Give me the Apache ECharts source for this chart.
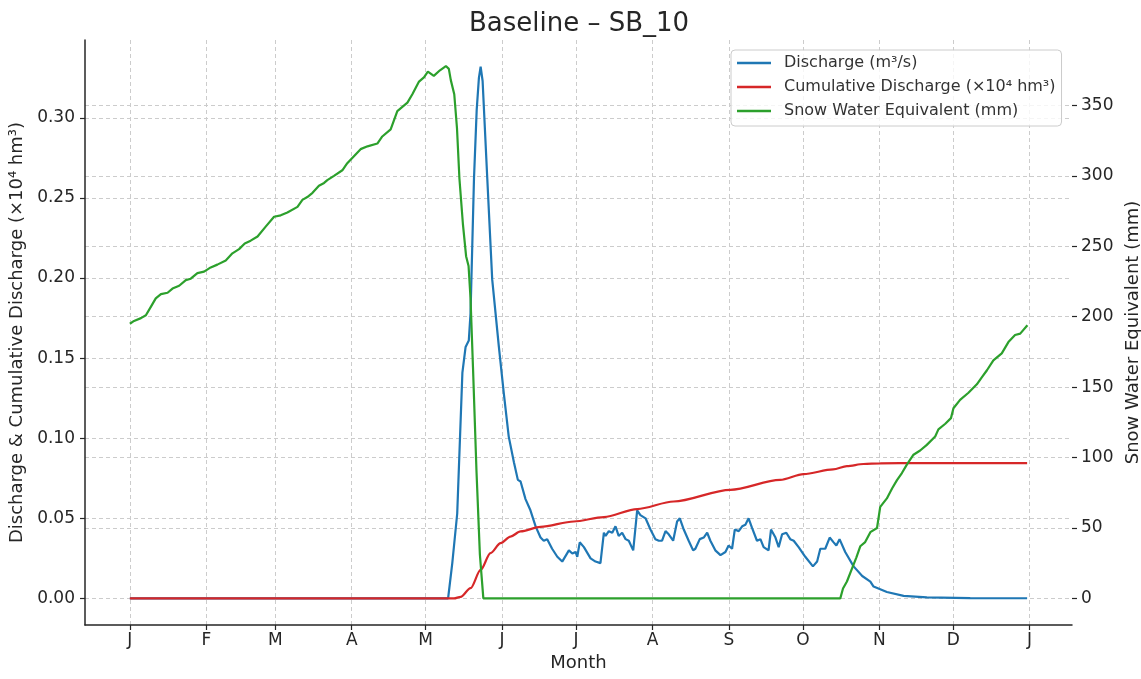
<!DOCTYPE html>
<html>
<head>
<meta charset="utf-8">
<script src="https://cdn.jsdelivr.net/npm/echarts@6/dist/echarts.min.js"></script>
<style>
html, body { margin: 0; padding: 0; background: #fff; }
#chart { width: 1141px; height: 679px; }
</style>
</head>
<body>
<div id="chart"></div>
<script>
// x axis is day of year, ticks at the first of each month
const monthTicks = [0, 31, 59, 90, 120, 151, 181, 212, 243, 273, 304, 334, 365]
const monthLabels = ['J', 'F', 'M', 'A', 'M', 'J', 'J', 'A', 'S', 'O', 'N', 'D', 'J']
const leftTicks = [0, 0.05, 0.1, 0.15, 0.2, 0.25, 0.3]
const rightTicks = [0, 50, 100, 150, 200, 250, 300, 350]

// discharge (m3/s)
const qDays = [0, 129.1, 130.8, 132.8, 134.9, 136.2, 137.5, 138.2, 139.6, 140.7, 141.6, 142.3, 143.1, 145.0, 147.0,
  149.7, 151.7, 153.7, 155.8, 157.4, 158.5, 160.5, 162.5, 164.6, 166.6, 167.9, 169.3, 171.3, 173.4, 175.4,
  178.1, 179.5, 180.8, 181.5, 182.5, 184.2, 186.9, 188.9, 190.9, 192.3, 193.0, 194.3, 195.7, 197.0, 198.3,
  199.7, 201.1, 202.4, 204.2, 205.8, 207.1, 209.2, 211.2, 213.2, 214.6, 215.9, 217.3, 218.6, 220.4, 222.0,
  223.1, 224.7, 226.7, 228.5, 229.4, 231.2, 232.8, 234.2, 235.5, 237.5, 239.6, 241.6, 242.9, 244.3, 245.4,
  247.0, 248.4, 249.7, 251.0, 252.4, 254.4, 255.8, 257.1, 259.1, 260.1, 261.9, 263.2, 264.6, 266.3, 267.9,
  269.3, 271.3, 274.0, 277.1, 278.8, 280.1, 282.1, 283.9, 285.5, 286.6, 287.9, 290.2, 293.6, 297.1, 300.4,
  301.7, 307.1, 313.9, 323.3, 340.9, 364]
const qVals = [0, 0, 0.022, 0.053, 0.141, 0.157, 0.161, 0.178, 0.262, 0.305, 0.325, 0.332, 0.323, 0.262, 0.199,
  0.157, 0.128, 0.101, 0.085, 0.074, 0.073, 0.062, 0.055, 0.045, 0.038, 0.036, 0.037, 0.031, 0.026, 0.023,
  0.030, 0.028, 0.029, 0.026, 0.035, 0.032, 0.025, 0.023, 0.022, 0.041, 0.039, 0.042, 0.041, 0.045, 0.039,
  0.041, 0.037, 0.036, 0.030, 0.055, 0.052, 0.050, 0.043, 0.037, 0.036, 0.036, 0.042, 0.040, 0.036, 0.048,
  0.050, 0.043, 0.036, 0.030, 0.031, 0.037, 0.038, 0.041, 0.036, 0.030, 0.027, 0.029, 0.033, 0.031, 0.043,
  0.042, 0.045, 0.046, 0.050, 0.044, 0.036, 0.037, 0.032, 0.030, 0.043, 0.038, 0.032, 0.040, 0.041, 0.037,
  0.036, 0.032, 0.026, 0.020, 0.023, 0.031, 0.031, 0.038, 0.035, 0.033, 0.037, 0.029, 0.020, 0.014, 0.0105,
  0.0074, 0.004, 0.0016, 0.0006, 0.0002, 0.0001]

// cumulative discharge (x10^4 hm3)
const cumDays = [0, 131.5, 134.2, 138.2, 142.3, 146.3, 150.4, 154.4, 158.5, 166.6, 180.1, 192.3, 205.8, 220.6,
  243.6, 263.8, 273.3, 285.3, 290.9, 297.6, 304.4, 320.6, 364]
const cumVals = [0, 0, 0.001, 0.0064, 0.0178, 0.0283, 0.0345, 0.0386, 0.0418, 0.0447, 0.048, 0.0508, 0.0558, 0.0605,
  0.0678, 0.074, 0.0776, 0.0806, 0.0826, 0.0839, 0.0843, 0.0845, 0.0845]

// snow water equivalent (mm)
const sweDays = [0, 1.7, 4.5, 6.5, 8.5, 10.5, 12.6, 15.3, 17.3, 20, 22.7, 24.7, 27.4, 30.1, 32.8, 35.5, 38.9, 41.6,
  44.3, 46.6, 49, 51.8, 55.1, 58.5, 61.2, 63.9, 68, 70, 72, 74.1, 76.7, 78.8, 80.1, 82.8, 86.2, 88.2, 90.9, 93.6,
  96.4, 100.4, 102.4, 105.8, 108.5, 112.6, 114.6, 117.3, 119.3, 120.9, 123.3, 125.8, 128.2, 129.4, 130.2, 131.6,
  132.7, 133.7, 135.1, 136.4, 137.4, 138.2, 139.2, 140.6, 142, 143.4, 288.2, 289.3, 290.9, 292.9, 294.7, 296.3,
  298.3, 300.4, 303.1, 304.4, 307.1, 309.2, 311.2, 313.2, 315.2, 317.9, 320.6, 323.3, 326.7, 328, 330.8, 333.1,
  334.1, 336.8, 340.2, 343.6, 345.6, 347.7, 350.3, 353.7, 356.4, 359.1, 361.2, 364.1]
const sweVals = [195, 197, 199, 201, 207, 213, 216, 217, 220, 222, 226, 227, 231, 232, 235, 237, 240, 245,
  248, 252, 254, 257, 264, 271, 272, 274, 278, 283, 285, 288, 293, 295, 297, 300, 304, 309, 314, 319,
  321, 323, 328, 333, 346, 352, 358, 367, 370, 374, 371, 375, 378, 376, 368, 358,
  334, 298, 266, 243, 236, 213, 164, 91, 31, 0, 0, 7, 12, 21, 29, 37,
  40, 47, 50, 65, 71, 78, 84, 89, 95, 102, 105, 109, 115, 120, 124, 128,
  135, 141, 146, 152, 157, 162, 169, 174, 182, 187, 188, 194]

const pairs = (xs, ys) => xs.map((x, i) => [x, ys[i]])

const font = 'DejaVu Sans'
const textColor = '#262626'
const gridLine = { show: true, lineStyle: { color: '#cccccc', type: [4, 3], width: 1 } }
const tick = { show: true, length: 5, lineStyle: { color: '#262626', width: 1.2 } }

const chart = echarts.init(document.getElementById('chart'))
chart.setOption({
  animation: false,
  backgroundColor: '#fff',
  title: {
    text: 'Baseline – SB_10',
    left: 579,
    textAlign: 'center',
    top: 11,
    padding: 0,
    textStyle: { fontFamily: font, fontSize: 26, fontWeight: 'normal', color: textColor }
  },
  grid: { left: 85, right: 69, top: 40, bottom: 54, outerBoundsMode: 'none', containLabel: false },
  legend: {
    orient: 'vertical',
    left: 731,
    top: 50,
    icon: 'rect',
    itemWidth: 34,
    itemHeight: 2.5,
    itemGap: 6,
    padding: [4, 6, 6, 6],
    backgroundColor: 'rgba(255,255,255,0.8)',
    borderColor: '#cccccc',
    borderWidth: 1,
    borderRadius: 4,
    textStyle: { fontFamily: font, fontSize: 16, color: '#333', lineHeight: 18, padding: [0, 0, 0, 8] }
  },
  xAxis: {
    type: 'value',
    min: -18.2,
    max: 382.2,
    name: 'Month',
    nameLocation: 'middle',
    nameGap: 29,
    nameTextStyle: { fontFamily: font, fontSize: 18, color: textColor },
    axisLine: { show: true, onZero: false, lineStyle: { color: '#262626', width: 1.5 } },
    axisTick: Object.assign({ customValues: monthTicks }, tick),
    axisLabel: {
      customValues: monthTicks,
      formatter: v => monthLabels[monthTicks.indexOf(v)],
      margin: 7,
      fontFamily: font,
      fontSize: 17,
      color: textColor
    },
    splitLine: gridLine
  },
  yAxis: [
    {
      type: 'value',
      position: 'left',
      min: -0.0166,
      max: 0.3486,
      name: 'Discharge & Cumulative Discharge (×10⁴ hm³)',
      nameLocation: 'middle',
      nameGap: 58,
      nameTextStyle: { fontFamily: font, fontSize: 18, color: textColor },
      axisLine: { show: true, onZero: false, lineStyle: { color: '#262626', width: 1.5 } },
      axisTick: Object.assign({ customValues: leftTicks }, tick),
      axisLabel: {
        customValues: leftTicks,
        formatter: v => v.toFixed(2),
        margin: 10,
        fontFamily: font,
        fontSize: 17,
        color: textColor
      },
      splitLine: gridLine
    },
    {
      type: 'value',
      position: 'right',
      min: -18.9,
      max: 396.5,
      name: 'Snow Water Equivalent (mm)',
      nameLocation: 'middle',
      nameGap: 46,
      nameTextStyle: { fontFamily: font, fontSize: 18, color: textColor },
      axisLine: { show: false, onZero: false },
      axisTick: Object.assign({ customValues: rightTicks }, tick),
      axisLabel: {
        customValues: rightTicks,
        margin: 9,
        fontFamily: font,
        fontSize: 17,
        color: textColor
      },
      splitLine: gridLine
    }
  ],
  series: [
    {
      name: 'Discharge (m³/s)',
      type: 'line',
      yAxisIndex: 0,
      data: pairs(qDays, qVals),
      symbol: 'none',
      color: '#1f77b4',
      lineStyle: { width: 2.2, color: '#1f77b4' }
    },
    {
      name: 'Cumulative Discharge (×10⁴ hm³)',
      type: 'line',
      yAxisIndex: 0,
      data: pairs(cumDays, cumVals),
      symbol: 'none',
      smooth: 0.3,
      smoothMonotone: 'x',
      color: '#d62728',
      lineStyle: { width: 2.2, color: '#d62728' }
    },
    {
      name: 'Snow Water Equivalent (mm)',
      type: 'line',
      yAxisIndex: 1,
      data: pairs(sweDays, sweVals),
      symbol: 'none',
      color: '#2ca02c',
      lineStyle: { width: 2.2, color: '#2ca02c' }
    }
  ]
})
</script>
</body>
</html>
